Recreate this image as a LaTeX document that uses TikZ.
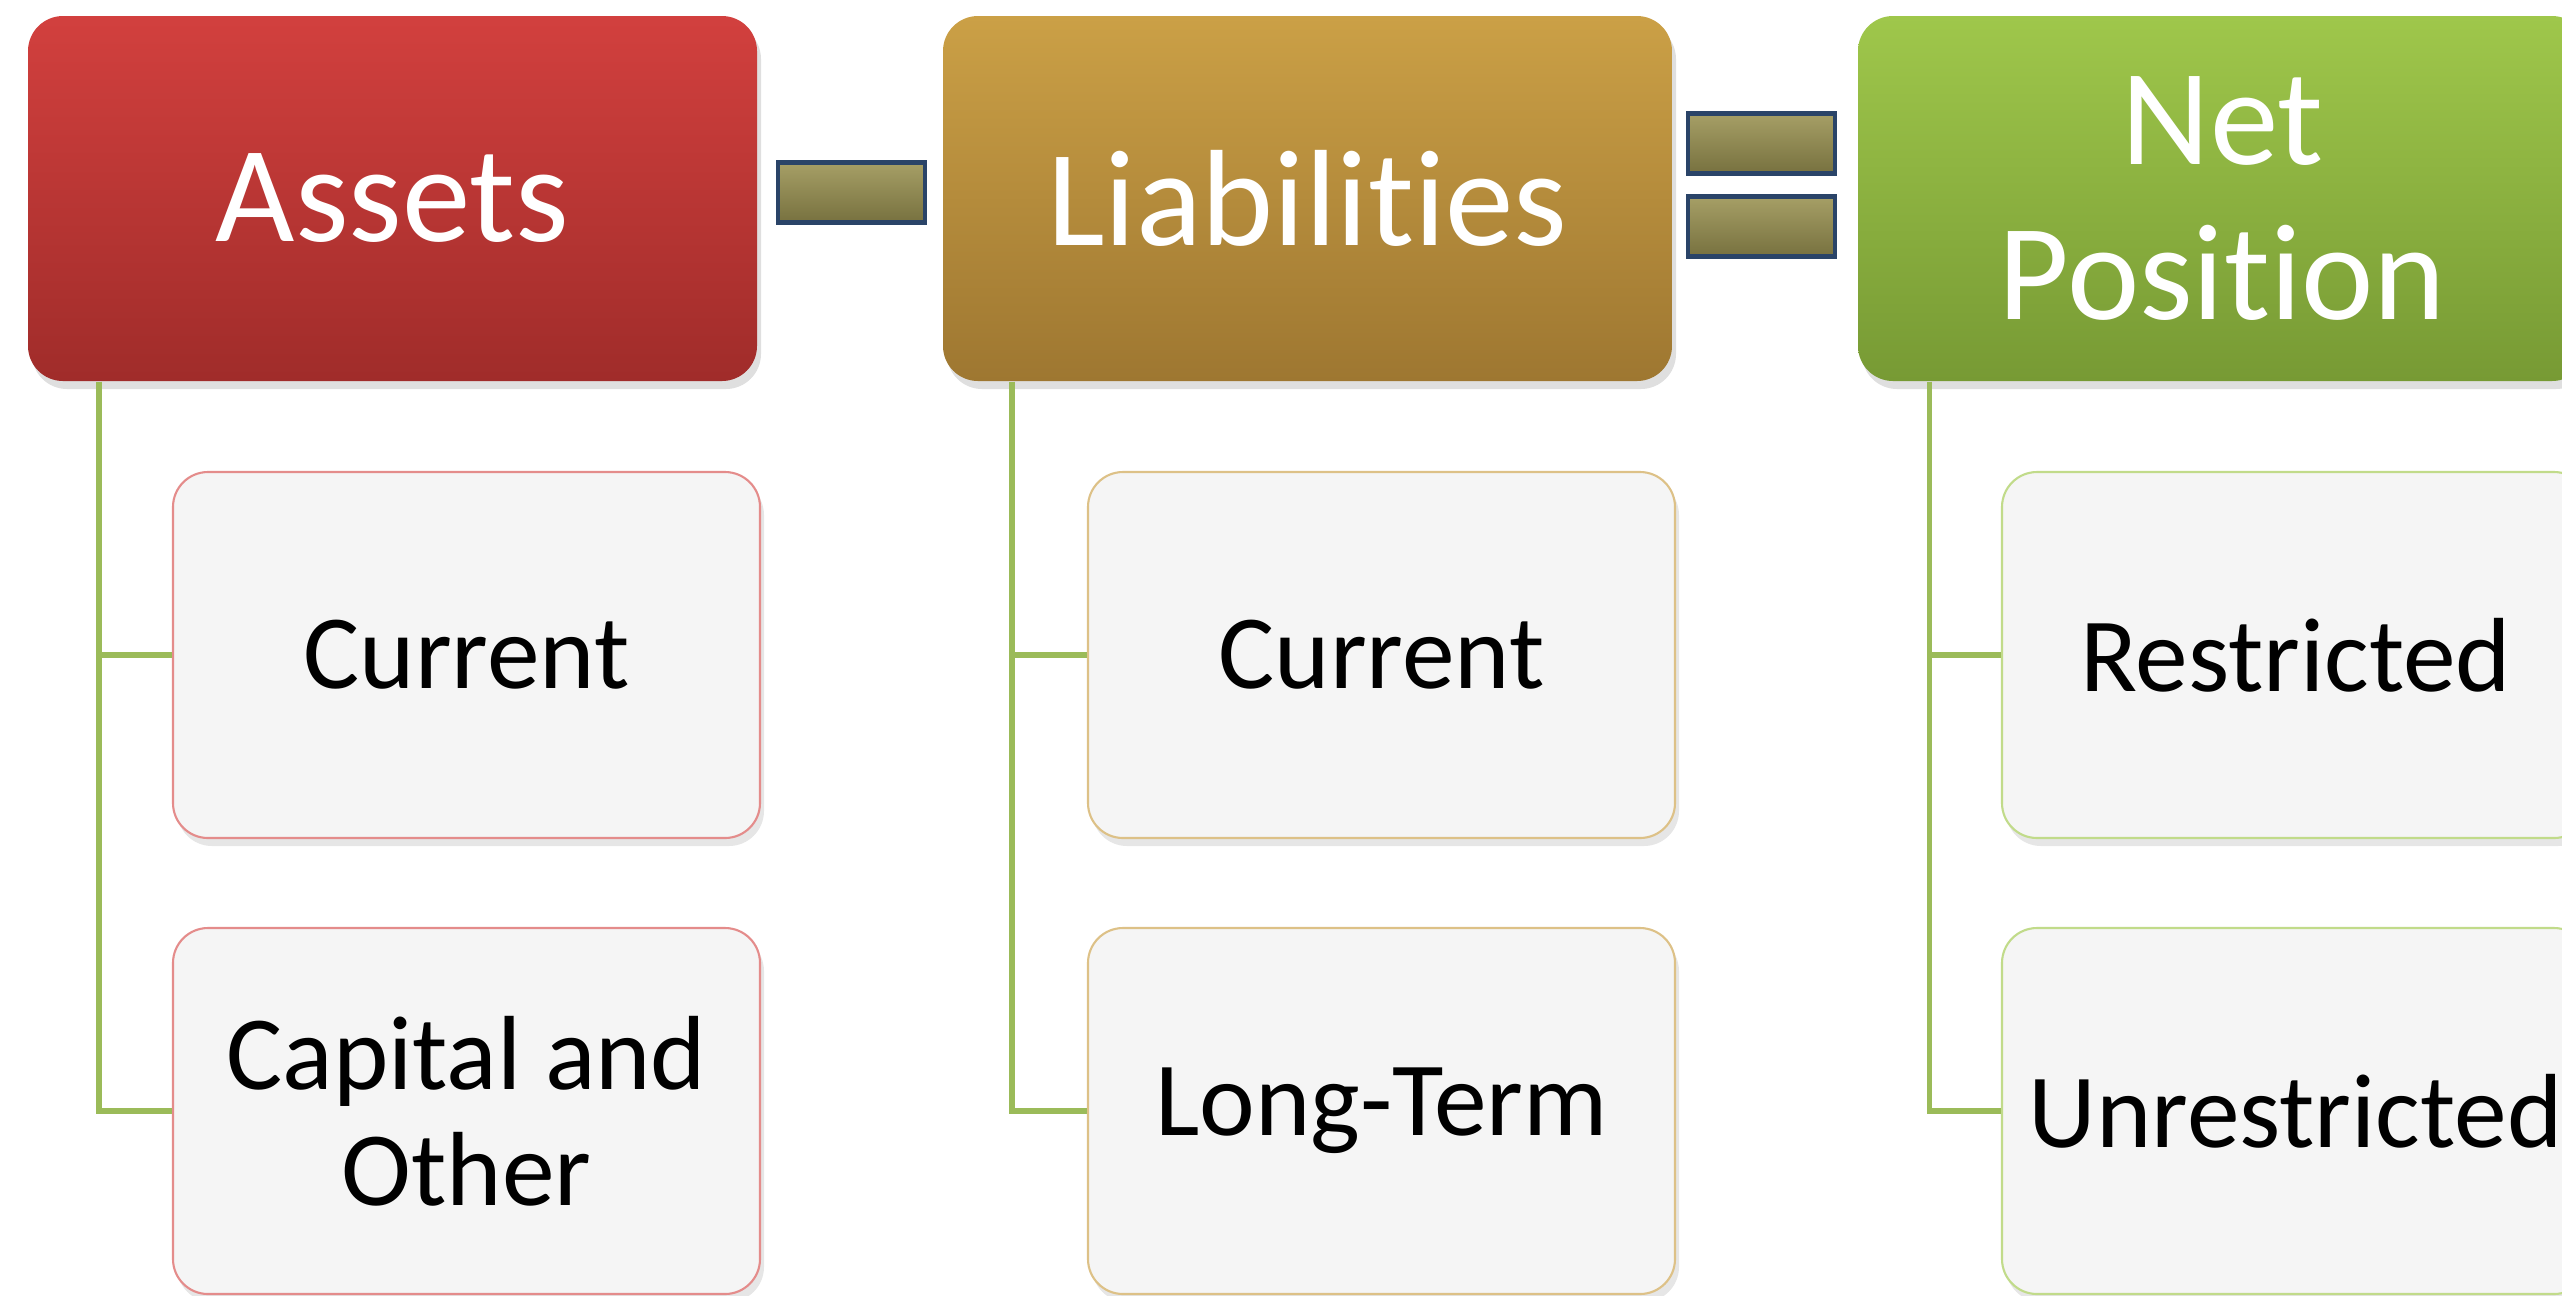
\documentclass[tikz,border=0pt]{standalone}
\usepackage{fontspec}
\setmainfont{Carlito}[Ligatures={NoCommon,NoRequired}]
\usetikzlibrary{shadows}
\definecolor{redtop}{HTML}{D2403E}
\definecolor{redbot}{HTML}{A02C2A}
\definecolor{goldtop}{HTML}{CBA046}
\definecolor{goldbot}{HTML}{9E7731}
\definecolor{greentop}{HTML}{9FC74B}
\definecolor{greenbot}{HTML}{779A34}
\definecolor{partfill}{HTML}{F5F5F5}
\definecolor{linkgreen}{HTML}{9BBB59}
\definecolor{barblue}{HTML}{2A4468}
\definecolor{bartop}{HTML}{A69F66}
\definecolor{barbot}{HTML}{77713F}
\tikzset{
  head/.style={rounded corners=3.5mm,minimum width=7.29cm,minimum height=3.65cm,inner sep=0pt,
    text=white,font=\fontsize{39}{44}\selectfont,align=center,
    drop shadow={shadow xshift=0.4mm,shadow yshift=-0.8mm,opacity=0.25}},
  part/.style={rounded corners=3.5mm,minimum width=5.87cm,minimum height=3.66cm,inner sep=0pt,
    fill=partfill,line width=0.6pt,font=\fontsize{30}{33}\selectfont,align=center,
    drop shadow={shadow xshift=0.4mm,shadow yshift=-0.8mm,opacity=0.2}},
  link/.style={draw=linkgreen,line width=1.6pt},
  bar/.style={minimum width=1.47cm,minimum height=0.6cm,inner sep=0pt,draw=barblue,line width=1.4pt,
    top color=bartop,bottom color=barbot}
}
\begin{document}
\begin{tikzpicture}
\clip (0,0) rectangle (25.62,-12.95);
% heads
\node[head,top color=redtop,bottom color=redbot] (assets) at (3.925,-1.985) {Assets};
\node[head,top color=goldtop,bottom color=goldbot] (liab) at (13.075,-1.985) {Liabilities};
\node[head,top color=greentop,bottom color=greenbot] (netpos) at (22.225,-1.985) {Net\\Position};
\node[bar] (minus) at (8.515,-1.925) {};
\node[bar] (eqtop) at (17.615,-1.435) {};
\node[bar] (eqbot) at (17.615,-2.265) {};
% parts
\node[part,draw=redtop!60] (acur) at (4.665,-6.55) {Current};
\node[part,draw=redtop!60] (acap) at (4.665,-11.11) {Capital and\\Other};
\node[part,draw=goldtop!65] (lcur) at (13.815,-6.55) {Current};
\node[part,draw=goldtop!65] (llong) at (13.815,-11.11) {Long-Term};
\node[part,draw=greentop!65] (nres) at (22.955,-6.55) {Restricted};
\node[part,draw=greentop!65] (nunres) at (22.955,-11.11) {Unrestricted};
% links
\draw[link] ([xshift=7.2mm]assets.south west) |- (acur.west);
\draw[link] ([xshift=7.2mm]assets.south west) |- (acap.west);
\draw[link] ([xshift=7.0mm]liab.south west) |- (lcur.west);
\draw[link] ([xshift=7.0mm]liab.south west) |- (llong.west);
\draw[link] ([xshift=7.2mm]netpos.south west) |- (nres.west);
\draw[link] ([xshift=7.2mm]netpos.south west) |- (nunres.west);
\end{tikzpicture}
\end{document}
